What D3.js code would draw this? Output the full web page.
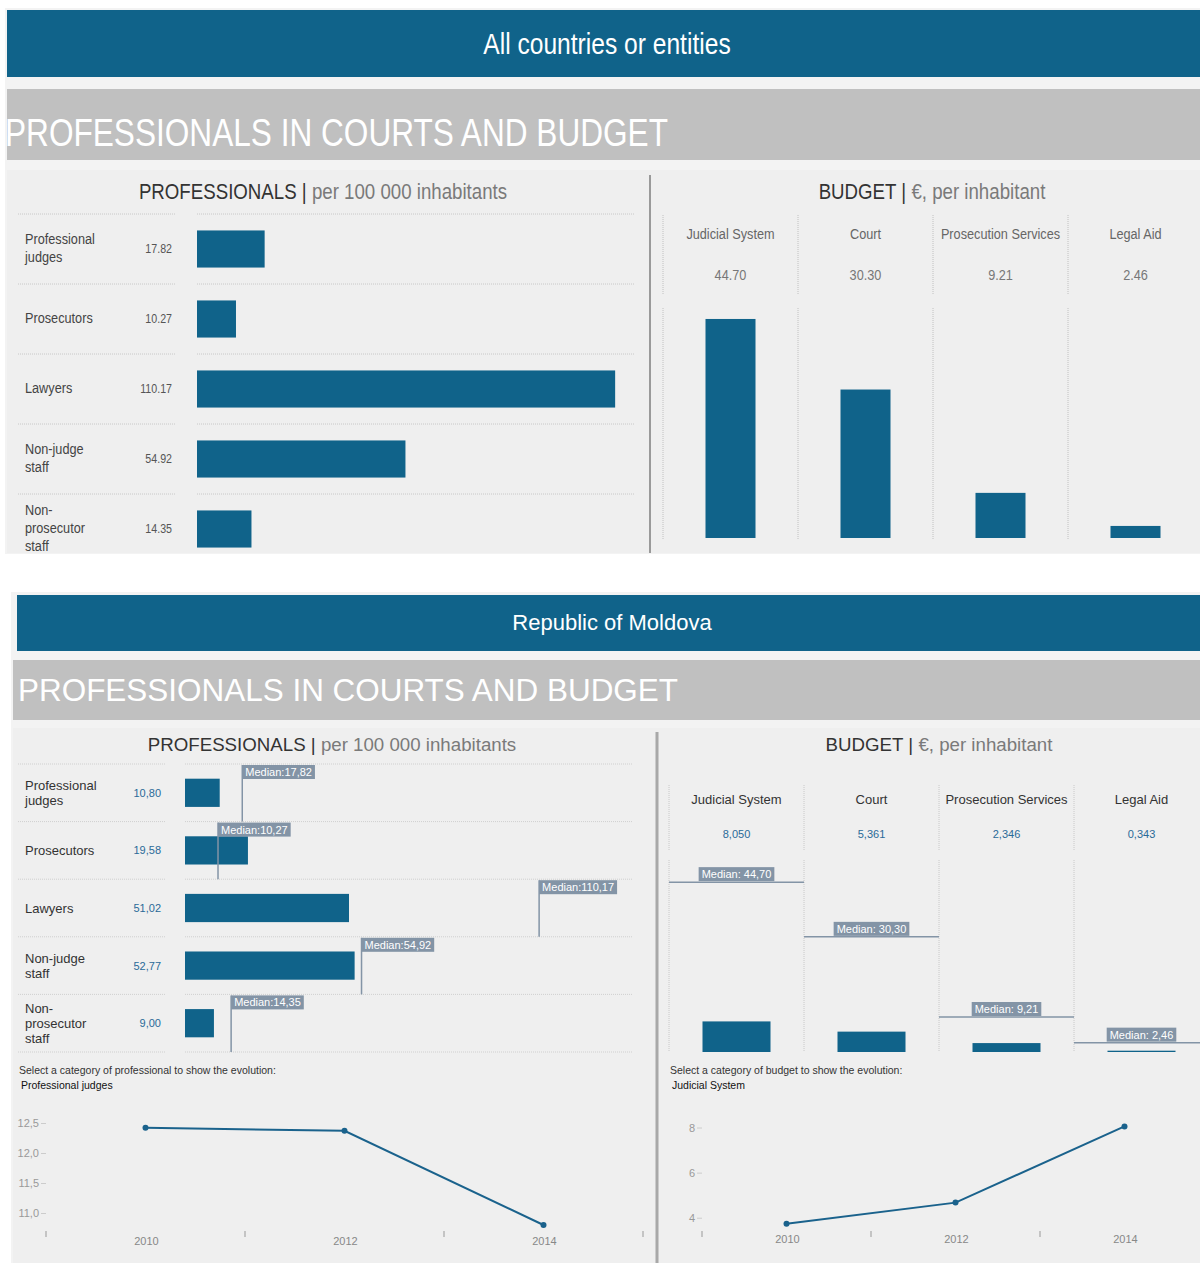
<!DOCTYPE html>
<html>
<head>
<meta charset="utf-8">
<script src="https://cdn.jsdelivr.net/npm/d3@7"></script>
<style>
  body { margin: 0; background: #fff; }
  svg { font-family: "Liberation Sans", Arial, sans-serif; }
</style>
</head>
<body>
<script>
// Data
var profCategories = ["Professional judges", "Prosecutors", "Lawyers", "Non-judge staff", "Non-prosecutor staff"];
var profLabelLines = [["Professional", "judges"], ["Prosecutors"], ["Lawyers"], ["Non-judge", "staff"], ["Non-", "prosecutor", "staff"]];
var profMedian = [17.82, 10.27, 110.17, 54.92, 14.35];      // all countries or entities
var profMoldova = [10.80, 19.58, 51.02, 52.77, 9.00];

var budgetCategories = ["Judicial System", "Court", "Prosecution Services", "Legal Aid"];
var budgetMedian = [44.70, 30.30, 9.21, 2.46];
var budgetMoldova = [8.050, 5.361, 2.346, 0.343];

var years = ["2010", "2012", "2014"];
var judgesTrend = [12.42, 12.37, 10.80];
var judicialTrend = [3.73, 4.67, 8.05];
var judgesTicks = [11.0, 11.5, 12.0, 12.5];
var judicialTicks = [4, 6, 8];

var blue = "#10638a",
    medianGrey = "#8394a6";

// comma decimals, like the source
var loc = d3.formatLocale({decimal: ",", thousands: " ", grouping: [3], currency: ["", "€"]});
var f2 = loc.format(".2f"), f3 = loc.format(".3f"), f1 = loc.format(".1f"), f0 = loc.format(".0f");

var width = 1200,
    height = 1263;

var svg = d3.select("body")
    .append("svg")
    .attr("width", width)
    .attr("height", height);

/* Narrow text: no Arial Narrow here, so squeeze Liberation Sans horizontally */
var SQUEEZE = 0.82;
function narrow(g, x, y, size, fill, anchor) {
    return g.append("text")
        .attr("transform", "translate(" + x + "," + y + ") scale(" + SQUEEZE + ",1)")
        .attr("text-anchor", anchor || "start")
        .attr("font-size", size)
        .attr("fill", fill);
}

/* ---------------- Top block: all countries or entities ---------------- */
var topG = svg.append("g");

topG.append("rect").attr("x", 5).attr("y", 8).attr("width", 1195).attr("height", 546).attr("fill", "#f3f3f3");
topG.append("rect").attr("x", 7).attr("y", 10).attr("width", 1193).attr("height", 67).attr("fill", blue);
narrow(topG, 607, 54, 30, "#fff", "middle").text("All countries or entities");

topG.append("rect").attr("x", 7).attr("y", 89).attr("width", 1193).attr("height", 71).attr("fill", "#c0c0c0");
topG.append("text")
    .attr("x", 5).attr("y", 146)
    .attr("fill", "#fff")
    .attr("font-size", 38)
    .attr("textLength", 663)
    .attr("lengthAdjust", "spacingAndGlyphs")
    .text("PROFESSIONALS IN COURTS AND BUDGET");

topG.append("rect").attr("x", 7).attr("y", 170).attr("width", 1193).attr("height", 383).attr("fill", "#efefef");
topG.append("line")
    .attr("x1", 650).attr("x2", 650).attr("y1", 175).attr("y2", 553)
    .attr("stroke", "#9a9a9a").attr("stroke-width", 2);

// panel titles: dark category, grey unit
function fillTitle(t, bold, rest) {
    t.append("tspan").attr("fill", "#333").text(bold + " | ");
    t.append("tspan").attr("fill", "#7a7a7a").text(rest);
}
fillTitle(narrow(topG, 323, 199, 22.8, "#333", "middle"), "PROFESSIONALS", "per 100 000 inhabitants");
fillTitle(narrow(topG, 932, 199, 22.8, "#333", "middle"), "BUDGET", "€, per inhabitant");

// professionals rows
var yTop = d3.scaleBand()
    .domain(profCategories)
    .range([214, 564])
    .paddingInner(0.47)
    .paddingOuter(0.235);

var xTop = d3.scaleLinear()
    .domain([0, 115.4])
    .range([197, 635]);

var stepTop = yTop.step();

profCategories.forEach(function(c, i) {
    var y0 = yTop(c) - stepTop * 0.235;
    topG.append("line").attr("x1", 18).attr("x2", 175).attr("y1", y0).attr("y2", y0)
        .attr("stroke", "#c8c8c8").attr("stroke-dasharray", "1,1");
    topG.append("line").attr("x1", 197).attr("x2", 635).attr("y1", y0).attr("y2", y0)
        .attr("stroke", "#c8c8c8").attr("stroke-dasharray", "1,1");
});

topG.selectAll(".prof-bar")
    .data(profMedian)
    .enter().append("rect")
        .attr("class", "prof-bar")
        .attr("x", xTop(0))
        .attr("y", function(d, i) { return yTop(profCategories[i]); })
        .attr("width", function(d) { return xTop(d) - xTop(0); })
        .attr("height", yTop.bandwidth())
        .attr("fill", blue);

profLabelLines.forEach(function(lines, i) {
    var cy = yTop(profCategories[i]) + yTop.bandwidth() / 2;
    var t = narrow(topG, 25, cy - (lines.length - 1) * 9 + 4, 15.5, "#444");
    lines.forEach(function(l, j) {
        t.append("tspan").attr("x", 0).attr("dy", j ? 18 : 0).text(l);
    });
    narrow(topG, 172, cy + 4, 13, "#555", "end").text(d3.format(".2f")(profMedian[i]));
});

// budget columns
var xBud = d3.scaleBand()
    .domain(budgetCategories)
    .range([663, 1203]);

var yBud = d3.scaleLinear()
    .domain([0, 50])
    .range([538, 293]);

budgetCategories.forEach(function(c, i) {
    var x0 = xBud(c), cx = x0 + xBud.bandwidth() / 2;
    topG.append("line").attr("x1", x0).attr("x2", x0).attr("y1", 215).attr("y2", 295)
        .attr("stroke", "#c0c0c0").attr("stroke-dasharray", "1,1");
    topG.append("line").attr("x1", x0).attr("x2", x0).attr("y1", 308).attr("y2", 540)
        .attr("stroke", "#c0c0c0").attr("stroke-dasharray", "1,1");
    narrow(topG, cx, 239, 15.5, "#666", "middle").text(c);
    narrow(topG, cx, 280, 15.5, "#777", "middle").text(d3.format(".2f")(budgetMedian[i]));
});

topG.selectAll(".bud-bar")
    .data(budgetMedian)
    .enter().append("rect")
        .attr("class", "bud-bar")
        .attr("x", function(d, i) { return xBud(budgetCategories[i]) + xBud.bandwidth() / 2 - 25; })
        .attr("y", function(d) { return yBud(d); })
        .attr("width", 50)
        .attr("height", function(d) { return yBud(0) - yBud(d); })
        .attr("fill", blue);

/* ---------------- Bottom block: Republic of Moldova ---------------- */
var bot = svg.append("g");

bot.append("rect").attr("x", 11).attr("y", 592).attr("width", 1189).attr("height", 671).attr("fill", "#f3f3f3");
bot.append("rect").attr("x", 17).attr("y", 595).attr("width", 1183).attr("height", 56).attr("fill", blue);
bot.append("text")
    .attr("x", 612).attr("y", 630)
    .attr("text-anchor", "middle")
    .attr("fill", "#fff")
    .attr("font-size", 22)
    .text("Republic of Moldova");

bot.append("rect").attr("x", 13).attr("y", 660).attr("width", 1187).attr("height", 60).attr("fill", "#c0c0c0");
bot.append("text")
    .attr("x", 18).attr("y", 701)
    .attr("fill", "#fff")
    .attr("font-size", 31)
    .attr("textLength", 660)
    .attr("lengthAdjust", "spacingAndGlyphs")
    .text("PROFESSIONALS IN COURTS AND BUDGET");

bot.append("rect").attr("x", 13).attr("y", 728).attr("width", 1187).attr("height", 535).attr("fill", "#efefef");
bot.append("line")
    .attr("x1", 657).attr("x2", 657).attr("y1", 732).attr("y2", 1263)
    .attr("stroke", "#a8a8a8").attr("stroke-width", 3);

function plainTitle(g, x, y, size, bold, rest) {
    var t = g.append("text")
        .attr("x", x).attr("y", y)
        .attr("text-anchor", "middle")
        .attr("font-size", size);
    fillTitle(t, bold, rest);
}
plainTitle(bot, 332, 751, 18.7, "PROFESSIONALS", "per 100 000 inhabitants");
plainTitle(bot, 939, 751, 18.7, "BUDGET", "€, per inhabitant");

// professionals rows with medians
var yBot = d3.scaleBand()
    .domain(profCategories)
    .range([764, 1052])
    .paddingInner(0.51)
    .paddingOuter(0.255);

var xBot = d3.scaleLinear()
    .domain([0, 140])
    .range([185, 635]);

var stepBot = yBot.step();

profCategories.concat([null]).forEach(function(c, i) {
    var y0 = 764 + i * stepBot;
    bot.append("line").attr("x1", 18).attr("x2", 165).attr("y1", y0).attr("y2", y0)
        .attr("stroke", "#cfcfcf").attr("stroke-dasharray", "1,1");
    bot.append("line").attr("x1", 185).attr("x2", 633).attr("y1", y0).attr("y2", y0)
        .attr("stroke", "#cfcfcf").attr("stroke-dasharray", "1,1");
});

bot.selectAll(".prof-bar")
    .data(profMoldova)
    .enter().append("rect")
        .attr("class", "prof-bar")
        .attr("x", xBot(0))
        .attr("y", function(d, i) { return yBot(profCategories[i]); })
        .attr("width", function(d) { return xBot(d) - xBot(0); })
        .attr("height", yBot.bandwidth())
        .attr("fill", blue);

profLabelLines.forEach(function(lines, i) {
    var cy = yBot(profCategories[i]) + yBot.bandwidth() / 2;
    var t = bot.append("text")
        .attr("x", 25)
        .attr("y", cy - (lines.length - 1) * 7.5 + 5)
        .attr("font-size", 13)
        .attr("fill", "#333");
    lines.forEach(function(l, j) {
        t.append("tspan").attr("x", 25).attr("dy", j ? 15 : 0).text(l);
    });
    bot.append("text")
        .attr("x", 161).attr("y", cy + 4)
        .attr("text-anchor", "end")
        .attr("font-size", 11)
        .attr("fill", "#2a6a98")
        .text(f2(profMoldova[i]));
});

// label box sized to its text
function medianTag(g, x, y, anchor, label) {
    var tag = g.append("g");
    var bg = tag.append("rect").attr("fill", medianGrey);
    var t = tag.append("text")
        .attr("x", x).attr("y", y)
        .attr("text-anchor", anchor)
        .attr("font-size", 11)
        .attr("fill", "#fff")
        .text(label);
    var w = t.node().getComputedTextLength();
    var left = anchor === "middle" ? x - w / 2 : x;
    bg.attr("x", left - 3).attr("y", y - 11)
        .attr("width", w + 6).attr("height", 14);
}

profMedian.forEach(function(m, i) {
    var y0 = yBot(profCategories[i]) - stepBot * 0.255 + 1;
    var mx = xBot(m);
    bot.append("line")
        .attr("x1", mx).attr("x2", mx)
        .attr("y1", y0).attr("y2", y0 + stepBot - 1)
        .attr("stroke", medianGrey).attr("stroke-width", 1.5);
    medianTag(bot, mx + 3, y0 + 11, "start", "Median:" + f2(m));
});

// budget columns with medians
var xBud2 = d3.scaleBand()
    .domain(budgetCategories)
    .range([669, 1209]);

var yBud2 = d3.scaleLinear()
    .domain([0, 50])
    .range([1052, 862]);

budgetCategories.forEach(function(c, i) {
    var x0 = xBud2(c), cx = x0 + xBud2.bandwidth() / 2;
    bot.append("line").attr("x1", x0).attr("x2", x0).attr("y1", 785).attr("y2", 850)
        .attr("stroke", "#c8c8c8").attr("stroke-dasharray", "1,1");
    bot.append("line").attr("x1", x0).attr("x2", x0).attr("y1", 860).attr("y2", 1052)
        .attr("stroke", "#c8c8c8").attr("stroke-dasharray", "1,1");
    bot.append("text")
        .attr("x", cx).attr("y", 804)
        .attr("text-anchor", "middle")
        .attr("font-size", 13)
        .attr("fill", "#333")
        .text(c);
    bot.append("text")
        .attr("x", cx).attr("y", 838)
        .attr("text-anchor", "middle")
        .attr("font-size", 11)
        .attr("fill", "#2a6a98")
        .text(f3(budgetMoldova[i]));
});

bot.selectAll(".bud-bar")
    .data(budgetMoldova)
    .enter().append("rect")
        .attr("class", "bud-bar")
        .attr("x", function(d, i) { return xBud2(budgetCategories[i]) + xBud2.bandwidth() / 2 - 34; })
        .attr("y", function(d) { return yBud2(d); })
        .attr("width", 68)
        .attr("height", function(d) { return yBud2(0) - yBud2(d); })
        .attr("fill", blue);

budgetMedian.forEach(function(m, i) {
    var x0 = xBud2(budgetCategories[i]), cx = x0 + xBud2.bandwidth() / 2;
    var my = yBud2(m);
    bot.append("line")
        .attr("x1", x0).attr("x2", x0 + xBud2.bandwidth())
        .attr("y1", my).attr("y2", my)
        .attr("stroke", medianGrey).attr("stroke-width", 1.5);
    medianTag(bot, cx, my - 4, "middle", "Median: " + f2(m));
});

/* ---------------- Evolution line charts ---------------- */
function evolution(g, opts) {
    g.append("text")
        .attr("x", opts.left).attr("y", 1074)
        .attr("font-size", 10.5)
        .attr("fill", "#333")
        .text(opts.prompt);
    g.append("text")
        .attr("x", opts.left + 2).attr("y", 1089)
        .attr("font-size", 10.5)
        .attr("fill", "#111")
        .text(opts.selected);

    var x = d3.scaleBand().domain(years).range(opts.xRange);
    var y = d3.scaleLinear().domain(opts.yDomain).range(opts.yRange);

    // band boundaries as tick marks
    x.domain().concat([null]).forEach(function(d, i) {
        var tx = opts.xRange[0] + i * x.step();
        g.append("line").attr("x1", tx).attr("x2", tx).attr("y1", 1231).attr("y2", 1237)
            .attr("stroke", "#999");
    });
    g.selectAll(".xlab-" + opts.id)
        .data(years)
        .enter().append("text")
            .attr("x", function(d) { return x(d) + x.bandwidth() / 2 + 1; })
            .attr("y", opts.xLabelY)
            .attr("text-anchor", "middle")
            .attr("font-size", 11)
            .attr("fill", "#888")
            .text(function(d) { return d; });

    var yAxis = g.append("g")
        .attr("transform", "translate(" + opts.xRange[0] + ",0)")
        .call(d3.axisLeft(y).tickValues(opts.ticks).tickSize(5).tickPadding(2).tickFormat(opts.fmt));
    yAxis.select(".domain").remove();
    yAxis.selectAll(".tick line").attr("stroke", "#ccc");
    yAxis.selectAll(".tick text")
        .attr("fill", "#999")
        .attr("font-size", 11)
        .attr("font-family", "Liberation Sans, Arial, sans-serif");

    var line = d3.line()
        .x(function(d, i) { return x(years[i]) + x.bandwidth() / 2; })
        .y(function(d) { return y(d); });

    g.append("path")
        .datum(opts.values)
        .attr("d", line)
        .attr("fill", "none")
        .attr("stroke", "#1a628c")
        .attr("stroke-width", 2);

    g.selectAll(".dot-" + opts.id)
        .data(opts.values)
        .enter().append("circle")
            .attr("cx", function(d, i) { return x(years[i]) + x.bandwidth() / 2; })
            .attr("cy", function(d) { return y(d); })
            .attr("r", 3)
            .attr("fill", "#1a628c");
}

evolution(bot, {
    id: "prof",
    left: 19,
    prompt: "Select a category of professional to show the evolution:",
    selected: "Professional judges",
    values: judgesTrend,
    ticks: judgesTicks,
    fmt: f1,
    xRange: [46, 643],
    yDomain: [10.7, 12.6],
    yRange: [1231, 1117],
    xLabelY: 1245
});

evolution(bot, {
    id: "bud",
    left: 670,
    prompt: "Select a category of budget to show the evolution:",
    selected: "Judicial System",
    values: judicialTrend,
    ticks: judicialTicks,
    fmt: f0,
    xRange: [702, 1209],
    yDomain: [3.5, 9],
    yRange: [1229, 1105],
    xLabelY: 1243
});
</script>
</body>
</html>
